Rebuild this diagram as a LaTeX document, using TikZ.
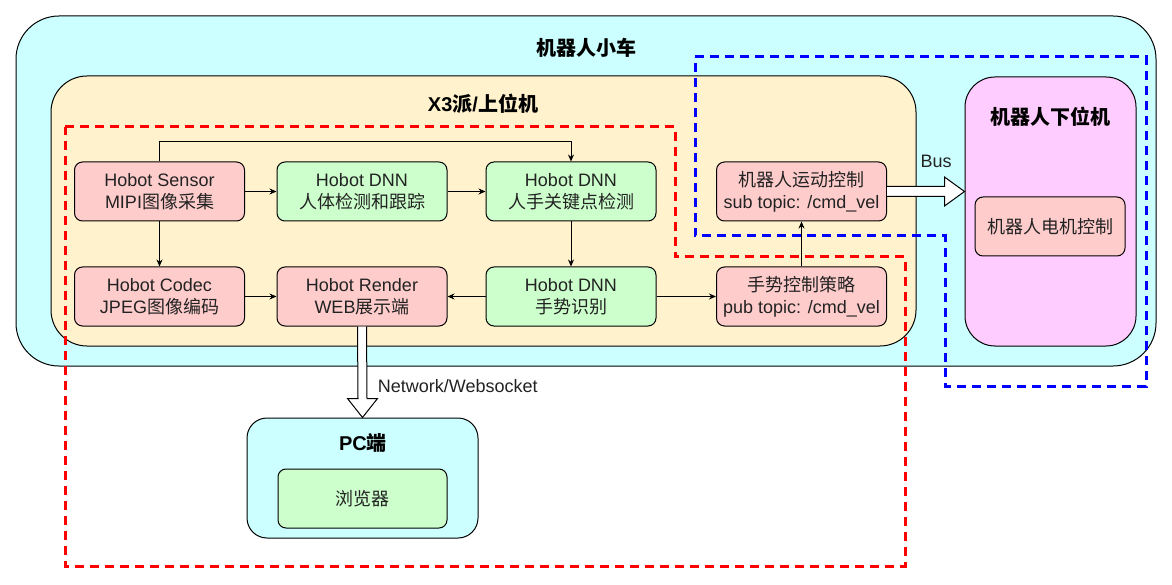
\documentclass[tikz,border=0pt]{standalone}
\usepackage{fontspec}
\setmainfont{Liberation Sans}
\newfontfamily\zhfont{Noto Sans CJK SC}
\newcommand{\zh}[1]{{\zhfont #1}}
\usetikzlibrary{arrows.meta,positioning,calc}
\definecolor{carcyan}{HTML}{CCFFFF}
\definecolor{hostyellow}{HTML}{FFF2CC}
\definecolor{modred}{HTML}{FFCCCC}
\definecolor{modgreen}{HTML}{CCFFCC}
\definecolor{lowpink}{HTML}{FFCCFF}
\definecolor{txtgray}{HTML}{222222}

\begin{document}
\begin{tikzpicture}[x=1pt, y=-1pt, line width=1pt, >={Stealth[length=7pt,width=6pt]},
  module/.style={draw, rounded corners=8pt, minimum width=170pt, minimum height=59pt, align=center, text=txtgray, font=\fontsize{18}{21.6}\selectfont},
  red module/.style={module, fill=modred},
  green module/.style={module, fill=modgreen},
  frame/.style={draw, minimum width=#1, inner sep=0pt},
  title/.style={font=\fontsize{20}{24}\selectfont\bfseries},
  plain label/.style={text=txtgray, font=\fontsize{18}{21.6}\selectfont},
  blockarrow/.style={draw, fill=white, line width=1pt, line join=miter},
  red zone/.style={draw=red, line width=3pt, dash pattern=on 9pt off 6pt},
  blue zone/.style={draw=blue, line width=3pt, dash pattern=on 9pt off 6pt}]
\useasboundingbox (0,0) rectangle (1172,585);
\node[frame=1140pt, minimum height=350pt, fill=carcyan, rounded corners=43pt] (car) at (586,191) {};
\node[frame=865pt, minimum height=270pt, fill=hostyellow, rounded corners=36pt] (host) at (483.5,211) {};
\node[frame=171pt, minimum height=269pt, fill=lowpink, rounded corners=30pt] (lower) at (1050.5,211.5) {};
\node[frame=231pt, minimum height=120pt, fill=carcyan, rounded corners=20pt] (pc) at (362.5,478) {};
\node[title] (cartitle) at (586,48) {\zh{机器人小车}};
\node[title] (hosttitle) at (483,104) {X3\zh{派}/\zh{上位机}};
\node[title] (lowertitle) at (1050,117) {\zh{机器人下位机}};
\node[title] (pctitle) at (363,443) {PC\zh{端}};
\node[red module] (sensor) at (159.5,191.5) {Hobot Sensor\\MIPI\zh{图像采集}};
\node[green module] (body) at (362,191.5) {Hobot DNN\\\zh{人体检测和跟踪}};
\node[green module] (hand) at (571,191.5) {Hobot DNN\\\zh{人手关键点检测}};
\node[red module] (motion) at (801.5,191.5) {\zh{机器人运动控制}\\sub topic: /cmd\_vel};
\node[red module] (codec) at (159.5,296.5) {Hobot Codec\\JPEG\zh{图像编码}};
\node[red module] (render) at (362,296.5) {Hobot Render\\WEB\zh{展示端}};
\node[green module] (gesture) at (571,296.5) {Hobot DNN\\\zh{手势识别}};
\node[red module] (strategy) at (801.5,296.5) {\zh{手势控制策略}\\pub topic: /cmd\_vel};
\node[red module, minimum width=150pt] (motor) at (1050,226.5) {\zh{机器人电机控制}};
\node[green module, minimum width=169pt] (browser) at (362.5,498.5) {\zh{浏览器}};
\draw[->] (sensor) -- (body);
\draw[->] (body) -- (hand);
\draw[->] (sensor.north) -- ++(0,-20) -| (hand.north);
\draw[->] (sensor) -- (codec);
\draw[->] (hand) -- (gesture);
\draw[->] (codec) -- (render);
\draw[->] (gesture) -- (render);
\draw[->] (gesture) -- (strategy);
\draw[->] (strategy) -- (motion);
\draw[blockarrow] ($(motion.east)+(0,-5)$) -- ($(lower.west |- motion.east)+(-20,-5)$) -- ++(0,-9.5) -- (lower.west |- motion.east) -- ($(lower.west |- motion.east)+(-20,14.5)$) -- ++(0,-9.5) -- ($(motion.east)+(0,5)$);
\node[plain label] (buslabel) at (936,161) {Bus};
\draw[blockarrow] ($(render.south)+(-4.5,0)$) -- ($(pc.north)+(-4.5,-19)$) -- ++(-10.5,0) -- (pc.north) -- ($(pc.north)+(15,-19)$) -- ++(-10.5,0) -- ($(render.south)+(4.5,0)$);
\node[plain label, anchor=west] (netlabel) at (374,386) {Network/Websocket};
\draw[red zone] (65,127) -- (675,127) -- (675,257) -- (905,257) -- (905,566) -- (65,566) -- cycle;
\draw[blue zone] (695,57) -- (1146,57) -- (1146,386) -- (945,386) -- (945,236) -- (695,236) -- cycle;
\end{tikzpicture}
\end{document}
